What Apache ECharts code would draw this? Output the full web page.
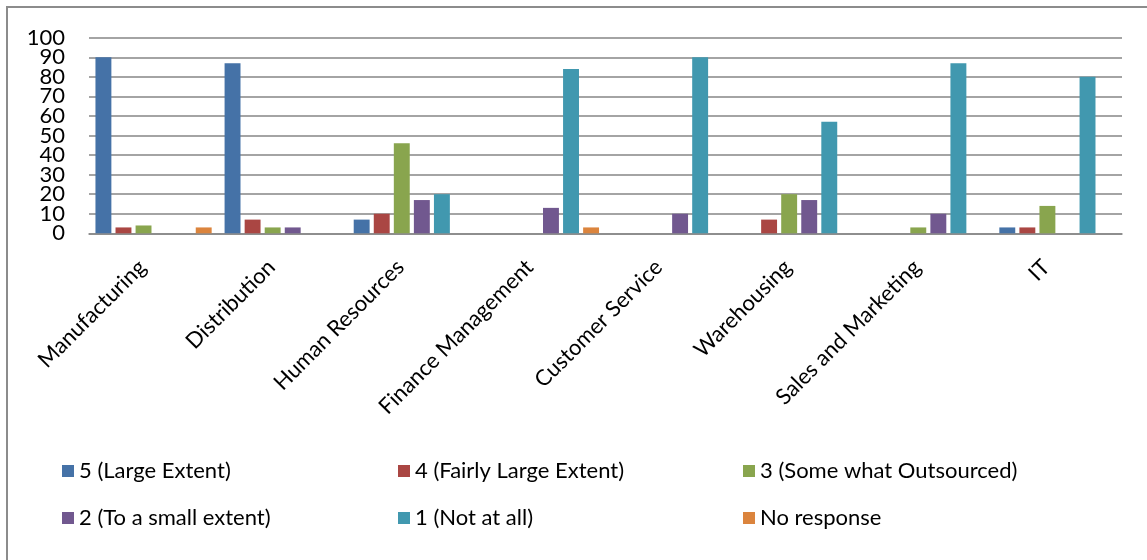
<!DOCTYPE html>
<html>
<head>
<meta charset="utf-8">
<script src="https://cdn.jsdelivr.net/npm/echarts@6/dist/echarts.min.js"></script>
<style>
html,body{margin:0;padding:0;background:#fff;}
#frame{position:absolute;left:6px;top:6px;width:1141px;height:554px;border-left:2px solid #8c8c8c;border-top:2px solid #8c8c8c;box-sizing:border-box;pointer-events:none;}
#chart{position:absolute;left:0;top:0;width:1147px;height:560px;}
</style>
</head>
<body>
<div id="chart"></div>
<div id="frame"></div>
<script>
const categories = ["Manufacturing", "Distribution", "Human Resources", "Finance Management", "Customer Service", "Warehousing", "Sales and Marketing", "IT"];
const seriesNames = ["5 (Large Extent)", "4 (Fairly Large Extent)", "3 (Some what Outsourced)", "2 (To a small extent)", "1 (Not at all)", "No response"];
const s5 = [90, 87, 7, 0, 0, 0, 0, 3];
const s4 = [3, 7, 10, 0, 0, 7, 0, 3];
const s3 = [4, 3, 46, 0, 0, 20, 3, 14];
const s2 = [0, 3, 17, 13, 10, 17, 10, 0];
const s1 = [0, 0, 20, 84, 90, 57, 87, 80];
const sNR = [3, 0, 0, 3, 0, 0, 0, 0];
const colors = ["#4572A7", "#AA4643", "#89A54E", "#71588F", "#4198AF", "#DB843D"];

const allData = [s5, s4, s3, s2, s1, sNR];
const font = "Lato, 'Open Sans', sans-serif";

const chart = echarts.init(document.getElementById('chart'), null, {renderer: 'canvas'});

const legendCols = [62, 398, 743];
const legends = legendCols.map((x, i) => ({
  left: x,
  top: 460,
  padding: 0,
  orient: 'vertical',
  itemWidth: 12,
  itemHeight: 12,
  itemGap: 25,
  icon: 'rect',
  selectedMode: false,
  data: [seriesNames[i], seriesNames[i + 3]],
  textStyle: {fontFamily: font, fontSize: 22, color: '#000'}
}));

const yLabelStyle = {margin: 24, fontFamily: font, fontSize: 22, color: '#000', hideOverlap: false};

chart.setOption({
  animation: false,
  color: colors,
  legend: legends,
  grid: {left: 89, right: 25, top: 37.7, bottom: 326.7, containLabel: false},
  xAxis: {
    type: 'category',
    data: categories,
    axisLine: {show: true, lineStyle: {color: '#868686', width: 1.5}},
    axisTick: {show: false},
    axisLabel: {rotate: 45, margin: 19, padding: [0, 16, 0, 0], fontFamily: font, fontSize: 22, color: '#000', interval: 0, hideOverlap: false}
  },
  yAxis: [{
    type: 'value',
    position: 'left',
    min: 0,
    max: 100,
    interval: 20,
    axisLine: {show: false},
    axisTick: {show: false},
    axisLabel: Object.assign({showMinLabel: true, showMaxLabel: true}, yLabelStyle),
    splitLine: {show: false}
  }, {
    type: 'value',
    position: 'left',
    offset: 0,
    min: 0,
    max: 100,
    interval: 10,
    axisLine: {show: false},
    axisTick: {show: false},
    axisLabel: Object.assign({showMinLabel: false, showMaxLabel: false,
      formatter: v => (v % 20 === 10 ? String(v) : '')}, yLabelStyle),
    splitLine: {show: true, lineStyle: {color: '#868686', width: 1.5}}
  }],
  series: seriesNames.map((name, i) => ({
    name: name,
    type: 'bar',
    yAxisIndex: 0,
    data: allData[i],
    barGap: '26%',
    barCategoryGap: '10%',
    itemStyle: {color: colors[i]}
  }))
});
</script>
</body>
</html>
